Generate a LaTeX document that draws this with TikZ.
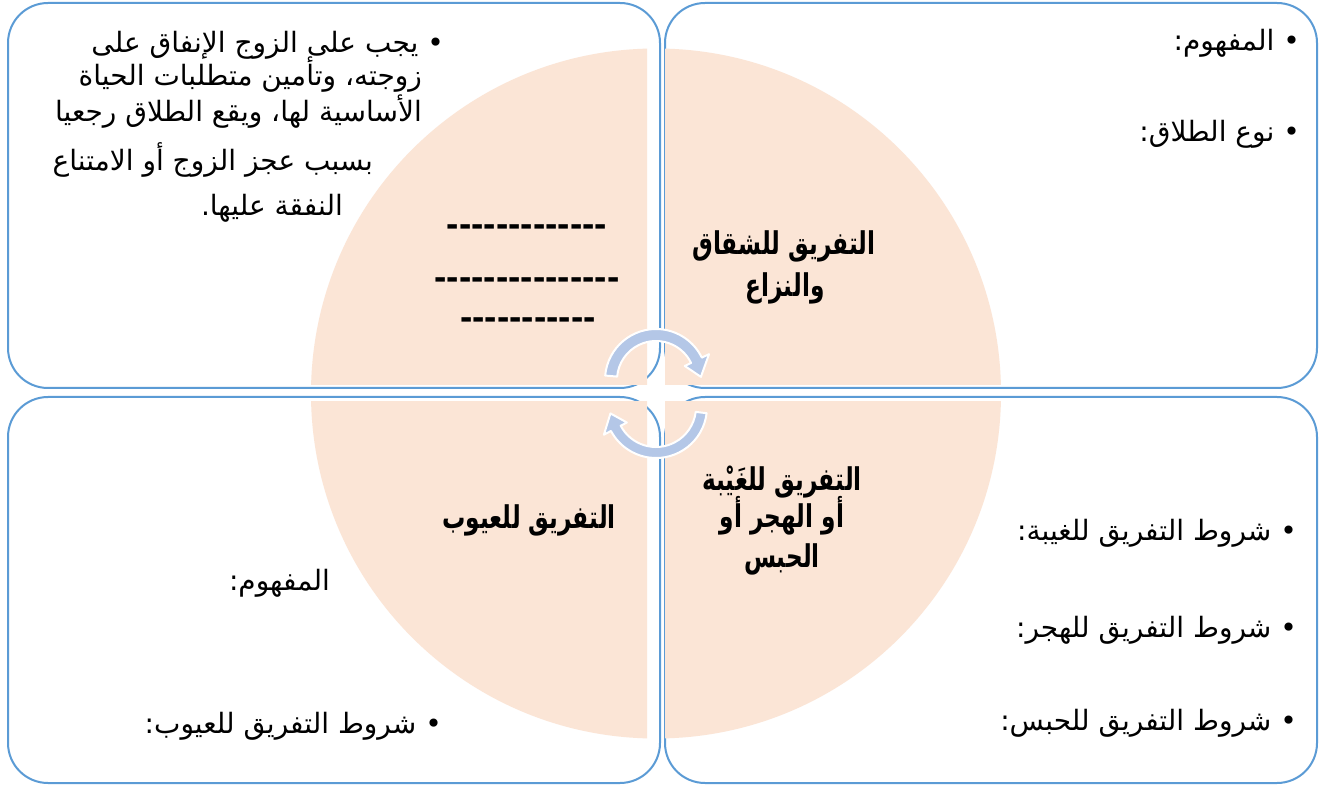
\documentclass[tikz,border=0pt]{standalone}
\usepackage{fontspec}
\setmainfont{Liberation Sans}
\newfontfamily\arabicfont[Script=Arabic]{DejaVu Sans}
\TeXXeTstate=1
\definecolor{boxblue}{RGB}{91,155,213}
\definecolor{peach}{RGB}{251,229,214}
\definecolor{arrowblue}{RGB}{180,199,231}
\newcommand{\RL}[1]{\beginR #1\endR}
\newcommand{\BL}[1]{\scalebox{0.83}[1.12]{\beginR #1\endR}}
\begin{document}
\begin{tikzpicture}[x=1pt,y=1pt,
  box/.style={draw=boxblue, line width=2pt, fill=white, rounded corners=40pt},
  bul/.style={font=\arabicfont\fontsize{28}{32}\selectfont, inner sep=0pt, anchor=base east},
  lbl/.style={font=\arabicfont\bfseries\fontsize{28}{32}\selectfont, inner sep=0pt, anchor=base},
  dsh/.style={font=\bfseries\fontsize{37}{40}\selectfont, inner sep=0pt},
  cyc/.style={fill=arrowblue, draw=white, line width=2pt, line join=round}]
\useasboundingbox (0,0) rectangle (1319,788);
% boxes
\draw[box] (8,400) rectangle (660,785);
\draw[box] (665,400) rectangle (1317,785);
\draw[box] (8,5) rectangle (660,391);
\draw[box] (665,5) rectangle (1317,391);
% text of top-left box (behind the pie)
\node[bul] (t1) at (444,735) {\RL{• يجب على الزوج الإنفاق على}};
\node[bul] (t2) at (422,702) {\RL{زوجته، وتأمين متطلبات الحياة}};
\node[bul] (t3) at (422,666) {\RL{الأساسية لها، ويقع الطلاق رجعيا}};
\node[bul] (t4) at (373,617) {\RL{بسبب عجز الزوج أو الامتناع}};
\node[bul] (t5) at (343,572) {\RL{النفقة عليها.}};
% pie quarters
\begin{scope}
  \clip (0,403) rectangle (647,788);
  \fill[peach] (656,394.5) circle[radius=345];
\end{scope}
\begin{scope}
  \clip (665,403) rectangle (1319,788);
  \fill[peach] (656,394.5) circle[radius=345];
\end{scope}
\begin{scope}
  \clip (0,0) rectangle (647,386);
  \fill[peach] (656,394.5) circle[radius=345];
\end{scope}
\begin{scope}
  \clip (665,0) rectangle (1319,386);
  \fill[peach] (656,394.5) circle[radius=345];
\end{scope}
% circular arrows
\path[cyc] ([shift={(656,408)}]175:51) arc[start angle=175, end angle=26, radius=51]
  -- ([shift={(656,408)}]26:59) -- ([shift={(656,408)}]4:45) -- ([shift={(656,408)}]26:32)
  -- ([shift={(656,408)}]26:39) arc[start angle=26, end angle=175, radius=39] -- cycle;
\path[cyc] ([shift={(656,381)}]-7:51) arc[start angle=-7, end angle=-152, radius=51]
  -- ([shift={(656,381)}]-152:59) -- ([shift={(656,381)}]-172:46) -- ([shift={(656,381)}]-152:33)
  -- ([shift={(656,381)}]-152:40) arc[start angle=-152, end angle=-7, radius=40] -- cycle;
% pie labels
\node[lbl] (s1) at (784,533) {\BL{التفريق للشقاق}};
\node[lbl] (s2) at (785,491) {\BL{والنزاع}};
\node[dsh] (d1) at (527,557) {-{}-{}-{}-{}-{}-{}-{}-{}-{}-{}-{}-{}-};
\node[dsh] (d2) at (527,504) {-{}-{}-{}-{}-{}-{}-{}-{}-{}-{}-{}-{}-{}-{}-};
\node[dsh] (d3) at (528,464) {-{}-{}-{}-{}-{}-{}-{}-{}-{}-{}-};
\node[lbl] (g1) at (782,298) {\BL{التفريق للغَيْبة}};
\node[lbl] (g2) at (782,261) {\BL{أو الهجر أو}};
\node[lbl] (g3) at (782,221) {\BL{الحبس}};
\node[lbl] (e1) at (529,260) {\BL{التفريق للعيوب}};
% top-right box
\node[bul] (r1) at (1300,737) {\RL{• المفهوم:}};
\node[bul] (r2) at (1300,646) {\RL{• نوع الطلاق:}};
% bottom-right box
\node[bul] (b1) at (1297,248) {\RL{• شروط التفريق للغيبة:}};
\node[bul] (b2) at (1297,151) {\RL{• شروط التفريق للهجر:}};
\node[bul] (b3) at (1297,58) {\RL{• شروط التفريق للحبس:}};
% bottom-left box
\node[bul] (l1) at (330,198) {\RL{المفهوم:}};
\node[bul] (l2) at (442,55) {\RL{• شروط التفريق للعيوب:}};
\end{tikzpicture}
\end{document}
